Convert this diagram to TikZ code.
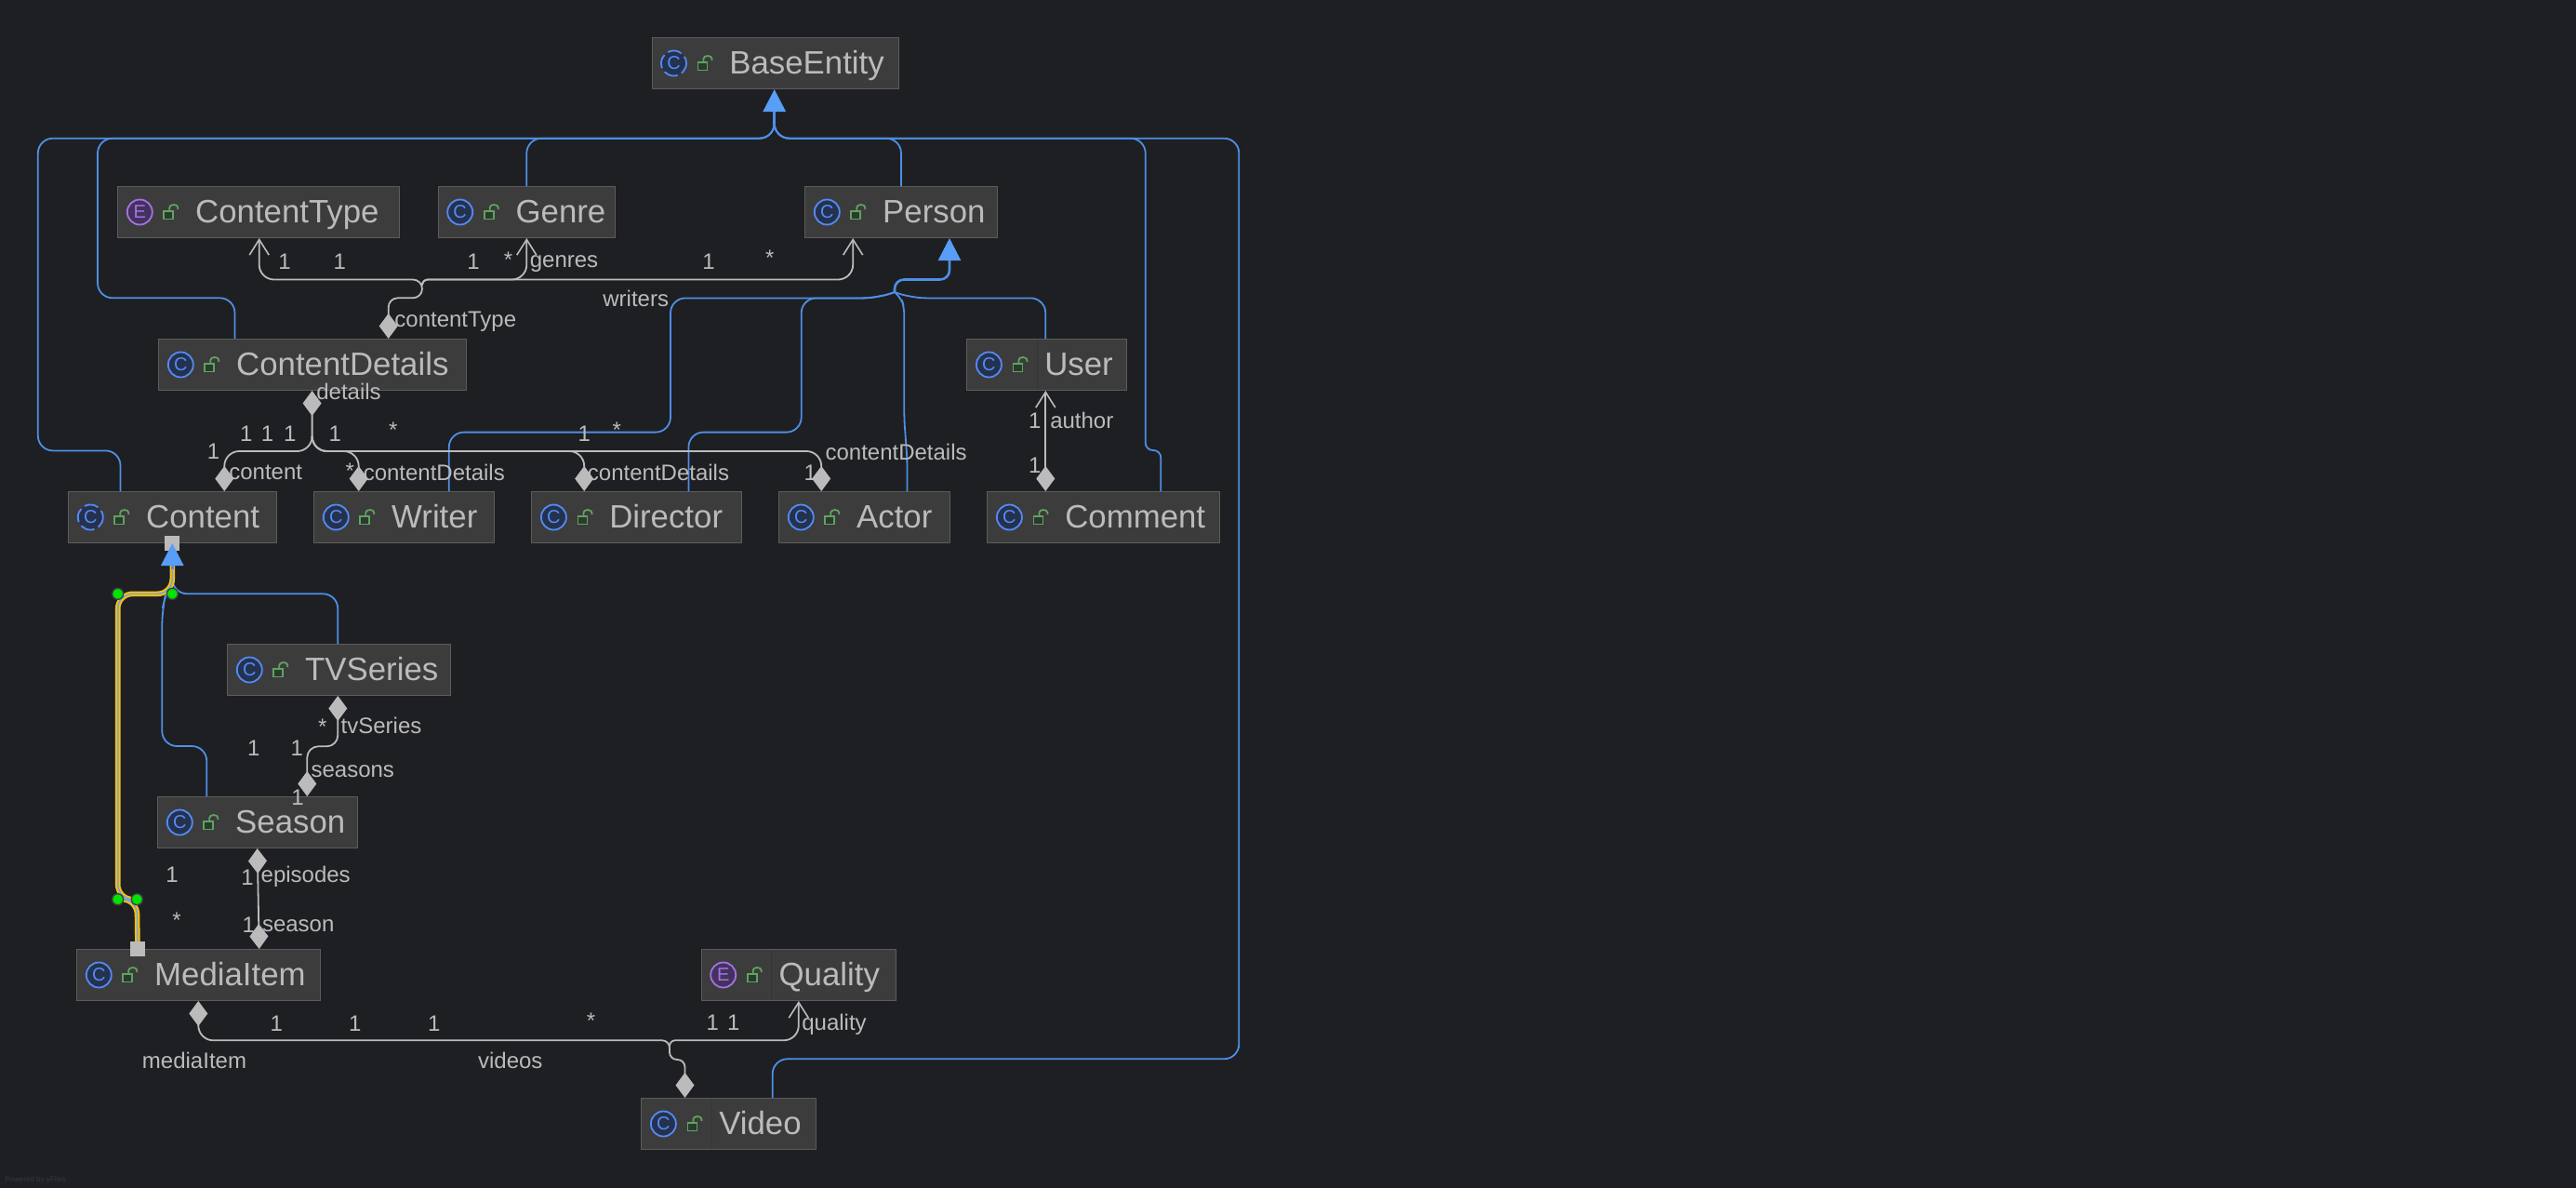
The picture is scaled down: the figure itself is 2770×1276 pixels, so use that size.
\documentclass[tikz,border=0pt]{standalone}
\usepackage{fontspec}
\setmainfont{Liberation Sans}
\usetikzlibrary{arrows.meta}
\definecolor{canvasbg}{HTML}{1E1F22}
\definecolor{boxfill}{HTML}{3C3C3C}
\definecolor{boxedge}{HTML}{5C5C5C}
\definecolor{boxdiv}{HTML}{353535}
\definecolor{textgray}{HTML}{BBBBBB}
\definecolor{genblue}{HTML}{4E8FE6}
\definecolor{tipblue}{HTML}{589DF6}
\definecolor{iconblue}{HTML}{548AF7}
\definecolor{iconbluefill}{HTML}{25324D}
\definecolor{iconpurple}{HTML}{A571E6}
\definecolor{iconpurplefill}{HTML}{43325C}
\definecolor{lockgreen}{HTML}{5FA35F}
\definecolor{lockfill}{HTML}{2B3A2E}
\definecolor{hlyellow}{HTML}{FFC000}
\definecolor{faintgray}{HTML}{36373B}
\tikzset{
  classbox/.style={draw=boxedge,fill=boxfill,line width=0.5pt,minimum height=27.5pt,inner sep=0pt,anchor=west},
  classtitle/.style={text=textgray,font=\fontsize{17.4}{20}\selectfont,inner sep=0pt,anchor=base west},
  iconring/.style={circle,line width=0.9pt,minimum size=13.5pt,inner sep=0pt,font=\fontsize{10}{12}\selectfont},
  dashring/.style={dash pattern=on 7.6pt off 2.4pt,dash phase=3.8pt},
  lbl/.style={text=textgray,font=\fontsize{12}{14}\selectfont,inner sep=0pt},
  genline/.style={draw=genblue,line width=0.9pt,rounded corners=8pt},
  assoc/.style={draw=textgray,line width=0.9pt,rounded corners=8pt},
  gentip/.style={-{Triangle[length=12pt,width=12pt,color=tipblue]}},
  dmd/.tip={Diamond[length=13.5pt,width=10pt,color=textgray]},
  barb/.tip={Straight Barb[length=8.3pt,width=10.5pt,color=textgray,line width=0.8pt]},
  hlline/.style={draw=hlyellow,line width=1pt,double=genblue!80!white,double distance=0.8pt,rounded corners=8pt},
  handle/.style={circle,fill=green!90!black,draw=canvasbg!85!white,line width=0.7pt,minimum size=6pt,inner sep=0pt},
  grip/.style={fill=textgray,minimum size=8pt,inner sep=0pt},
}
% name, left, right, y centre, ring style, ring colours, letter, title
\newcommand{\umlclass}[9]{
  \node[classbox,minimum width=#3*0.5pt-#2*0.5pt] (#1) at (#2,#4) {};
  \node[iconring,draw=#6,fill=#7,text=#6,#5] (#1icon) at (#2+24,#4) {#8};
  \draw[lockgreen,fill=lockfill,line width=0.9pt] (#2+50,#4-1) rectangle (#2+60,#4+7.5);
  \draw[lockgreen,line width=0.9pt] (#2+56,#4-1) -- (#2+56,#4-5) arc[start angle=180,end angle=0,x radius=4.5,y radius=-3] -- (#2+65,#4-3);
  \node[classtitle] (#1title) at (#2+83.5,#4+11.5) {#9};
}
\begin{document}
\begin{tikzpicture}[x=0.5pt,y=-0.5pt]
  \useasboundingbox (0,0) rectangle (2770,1276);
  \fill[canvasbg] (-5,-5) rectangle (2775,1281);

  \umlclass{base}{700.5}{965.5}{68}{dashring}{iconblue}{iconbluefill}{C}{BaseEntity}
  \umlclass{ctype}{126.3}{429}{228}{}{iconpurple}{iconpurplefill}{E}{ContentType}
  \umlclass{genre}{470.7}{661}{228}{}{iconblue}{iconbluefill}{C}{Genre}
  \umlclass{person}{865.3}{1072.4}{228}{}{iconblue}{iconbluefill}{C}{Person}
  \umlclass{details}{170.3}{501.3}{392}{}{iconblue}{iconbluefill}{C}{ContentDetails}
  \umlclass{user}{1039.4}{1210.6}{392}{}{iconblue}{iconbluefill}{C}{User}
  \umlclass{content}{73.3}{296.7}{556}{dashring}{iconblue}{iconbluefill}{C}{Content}
  \umlclass{writer}{337.3}{530.7}{556}{}{iconblue}{iconbluefill}{C}{Writer}
  \umlclass{director}{571.4}{796.6}{556}{}{iconblue}{iconbluefill}{C}{Director}
  \umlclass{actor}{837.3}{1020.5}{556}{}{iconblue}{iconbluefill}{C}{Actor}
  \umlclass{comment}{1061.4}{1310.7}{556}{}{iconblue}{iconbluefill}{C}{Comment}
  \umlclass{tvseries}{244.3}{483.7}{720}{}{iconblue}{iconbluefill}{C}{TVSeries}
  \umlclass{season}{169.3}{384.3}{884}{}{iconblue}{iconbluefill}{C}{Season}
  \umlclass{media}{82.3}{343.7}{1048}{}{iconblue}{iconbluefill}{C}{MediaItem}
  \umlclass{quality}{753.7}{962.7}{1048}{}{iconpurple}{iconpurplefill}{E}{Quality}
  \umlclass{video}{689.4}{876.6}{1208}{}{iconblue}{iconbluefill}{C}{Video}
  \draw[boxdiv] (1115,365) -- (1115,419);
  \draw[boxdiv] (829.5,1021) -- (829.5,1075);
  \draw[boxdiv] (765.5,1181) -- (765.5,1235);

  % inheritance, BaseEntity
  \draw[genline] (252.5,0 |- details.north) -- (252.5,320.3) -- (105,320.3) -- (105,148.7) -- (832.7,148.7) -- (832.7,125);
  \draw[genline] (129.5,0 |- content.north) -- (129.5,484.4) -- (40.8,484.4) -- (40.8,148.7) -- (832.7,148.7) -- (832.7,125);
  \draw[genline] (566.3,0 |- genre.north) -- (566.3,148.7) -- (832.7,148.7) -- (832.7,125);
  \draw[genline] (969,0 |- person.north) -- (969,148.7) -- (832.7,148.7) -- (832.7,125);
  \draw[genline,rounded corners=4pt] (1248.3,0 |- comment.north) -- (1248.3,484) -- (1231.7,484) [rounded corners=8pt] -- (1231.7,148.7) -- (832.7,148.7) -- (832.7,125);
  \draw[genline] (830.7,0 |- video.north) -- (830.7,1138.3) -- (1332.3,1138.3) -- (1332.3,148.7) -- (832.7,148.7) -- (832.7,125);
  \draw[genline,line width=1.5pt,gentip] (832.7,136) -- (832.7,0 |- base.south);

  % inheritance, Person
  \draw[genline] (482.8,0 |- writer.north) -- (482.8,464.6) -- (721,464.6) -- (721,320.4) -- (944,320.4) -- (962,314);
  \draw[genline] (740.4,0 |- director.north) -- (740.4,464.6) -- (861.7,464.6) -- (861.7,320.4) -- (944,320.4) -- (962,314);
  \draw[genline,rounded corners=4pt] (975.5,0 |- actor.north) -- (975.5,495) -- (972.3,450) -- (972.3,330) -- (969,320.5) -- (962,314);
  \draw[genline] (1124.3,0 |- user.north) -- (1124.3,320.4) -- (980,320.4) -- (962,314);
  \draw[genline,line width=1.3pt,gentip,rounded corners=5pt] (962,314) -- (962,300.5) -- (1021,300.5) -- (1021,0 |- person.south);

  % inheritance, Content
  \draw[genline] (363.3,0 |- tvseries.north) -- (363.3,638.3) -- (185.3,638.3) -- (185.3,607);
  \draw[genline] (222.3,0 |- season.north) -- (222.3,802) -- (174.3,802) -- (174.3,656) -- (178.3,638) -- (185.3,620);
  \draw[hlline] (148,0 |- media.north) -- (147.3,966.7) -- (126.7,966.7) -- (126.7,638.3) -- (185.3,638.3) -- (185.3,607);

  % associations
  \draw[assoc,{dmd}-{barb},rounded corners=5pt] (417.7,0 |- details.north) -- (417.7,320.3) -- (454,320.3) -- (454,300.5) [rounded corners=8pt] -- (278.7,300.5) -- (278.7,0 |- ctype.south);
  \draw[assoc,-{barb}] (454,304) [rounded corners=3pt] -- (454,300.5) [rounded corners=8pt] -- (566.3,300.5) -- (566.3,0 |- genre.south);
  \draw[assoc,-{barb}] (454,304) [rounded corners=3pt] -- (454,300.5) [rounded corners=8pt] -- (917.2,300.5) -- (917.2,0 |- person.south);

  \draw[assoc,{dmd}-{dmd}] (335.6,0 |- details.south) -- (335.6,485) -- (241.3,485) -- (241.3,0 |- content.north);
  \draw[assoc,-{dmd}] (335.6,470) -- (335.6,485) -- (385.7,485) -- (385.7,0 |- writer.north);
  \draw[assoc,-{dmd}] (335.6,470) -- (335.6,485) -- (628.2,485) -- (628.2,0 |- director.north);
  \draw[assoc,-{dmd}] (335.6,470) -- (335.6,485) -- (883.2,485) -- (883.2,0 |- actor.north);

  \draw[assoc,{barb}-{dmd}] (1124.3,0 |- user.south) -- (1124.3,0 |- comment.north);
  \draw[assoc,{dmd}-{dmd},rounded corners=6pt] (363.3,0 |- tvseries.south) -- (363.3,802.3) -- (330.3,802.3) -- (330.3,0 |- season.north);
  \draw[assoc,{dmd}-{dmd}] (276.7,0 |- season.south) -- (278.7,0 |- media.north);
  \draw[assoc,{dmd}-{dmd}] (213.3,0 |- media.south) -- (213.3,1118.3) [rounded corners=4pt] -- (720,1118.3) -- (720,1139) -- (736.5,1139) -- (736.5,0 |- video.north);
  \draw[assoc,-{barb}] (720,1124) [rounded corners=3pt] -- (720,1118.3) [rounded corners=8pt] -- (858.8,1118.3) -- (858.8,0 |- quality.south);

  % selection marks
  \node[grip] (gripa) at (185.3,584) {};
  \node[grip] (gripb) at (148,1020) {};
  \draw[genline,gentip,line width=1.4pt] (185.3,612) -- (gripa.center);
  \node[handle] (hnda) at (126.7,638.3) {};
  \node[handle] (hndb) at (185.3,638.3) {};
  \node[handle] (hndc) at (126.7,966.7) {};
  \node[handle] (hndd) at (147.3,966.7) {};

  % labels
  \node[lbl] (l1) at (306,281.5) {1};
  \node[lbl] (l2) at (365.4,281.5) {1};
  \node[lbl] (l3) at (509,281.5) {1};
  \node[lbl] (l4) at (546.6,279) {*};
  \node[lbl] (l5) at (606.5,284) {genres};
  \node[lbl] (l6) at (762,281.5) {1};
  \node[lbl] (l7) at (827.8,277) {*};
  \node[lbl] (l8) at (683.7,320.6) {writers};
  \node[lbl] (l9) at (489.8,346) {contentType};
  \node[lbl] (l10) at (375,421) {details};
  \node[lbl] (l11) at (264.7,465.8) {1};
  \node[lbl] (l12) at (287.6,465.8) {1};
  \node[lbl] (l13) at (311.9,465.8) {1};
  \node[lbl] (l14) at (360.3,465.8) {1};
  \node[lbl] (l15) at (422.8,462.7) {*};
  \node[lbl] (l16) at (229.6,485.6) {1};
  \node[lbl] (l17) at (285.7,508) {content};
  \node[lbl] (l18) at (376.3,506) {*};
  \node[lbl] (l19) at (466.8,508) {contentDetails};
  \node[lbl] (l20) at (708,508) {contentDetails};
  \node[lbl] (l21) at (628.2,465.8) {1};
  \node[lbl] (l22) at (663.3,462.7) {*};
  \node[lbl] (l23) at (963.6,486) {contentDetails};
  \node[lbl] (l24) at (871.3,508) {1};
  \node[lbl] (l25) at (1112.8,452) {1};
  \node[lbl] (l26) at (1163.3,452) {author};
  \node[lbl] (l27) at (1112.8,500) {1};
  \node[lbl] (l28) at (346.7,781.3) {*};
  \node[lbl] (l29) at (410,780) {tvSeries};
  \node[lbl] (l30) at (272.7,804) {1};
  \node[lbl] (l31) at (319.3,804) {1};
  \node[lbl] (l32) at (379.3,829) {seasons};
  \node[lbl] (l33) at (320,857.3) {1};
  \node[lbl] (l34) at (185,940.7) {1};
  \node[lbl] (l35) at (266,943.3) {1};
  \node[lbl] (l36) at (328.7,942) {episodes};
  \node[lbl] (l37) at (190,989) {*};
  \node[lbl] (l38) at (267.3,994) {1};
  \node[lbl] (l39) at (320.7,995.3) {season};
  \node[lbl] (l40) at (297.3,1100) {1};
  \node[lbl] (l41) at (381.7,1100) {1};
  \node[lbl] (l42) at (466.7,1100) {1};
  \node[lbl] (l43) at (209,1140) {mediaItem};
  \node[lbl] (l44) at (548.8,1140) {videos};
  \node[lbl] (l45) at (635.5,1097) {*};
  \node[lbl] (l46) at (766.4,1099.3) {1};
  \node[lbl] (l47) at (788.8,1099.3) {1};
  \node[lbl] (l48) at (897,1101) {quality};
  \node[lbl,text=faintgray,font=\fontsize{4}{5}\selectfont,anchor=west] (yfiles) at (5,1268) {Powered by yFiles};
\end{tikzpicture}
\end{document}
